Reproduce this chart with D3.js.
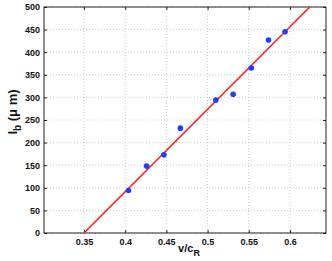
<!DOCTYPE html>
<html><head><meta charset="utf-8">
<script src="https://cdn.jsdelivr.net/npm/d3@7"></script>
<style>body{margin:0;background:#fff}svg{display:block}text{font-family:"Liberation Sans",Arial,sans-serif}</style>
</head><body><svg id="c" width="332" height="261"></svg>
<script>
const vRatio = [0.404, 0.426, 0.447, 0.467, 0.510, 0.531, 0.553, 0.574, 0.594];
const lb = [94, 148, 173, 232, 294, 307, 365, 427, 445];
const fitX = [0.35, 0.624];
const fitY = [0, 500];
const xTicks = [0.35, 0.4, 0.45, 0.5, 0.55, 0.6];
const yTicks = [0, 50, 100, 150, 200, 250, 300, 350, 400, 450, 500];

const svg = d3.select("#c");
const m = {l:44, r:326, t:7, b:233};
const x = d3.scaleLinear().domain([0.3015, 0.6437]).range([m.l, m.r]);
const y = d3.scaleLinear().domain([0, 500]).range([m.b, m.t]);

// grid
const g = svg.append("g");
g.selectAll(".gx").data(xTicks).join("line")
 .attr("x1", d=>x(d)).attr("x2", d=>x(d)).attr("y1", m.t).attr("y2", m.b)
 .attr("stroke", "#bbb").attr("stroke-width", 0.8).attr("stroke-dasharray", "1,2");
g.selectAll(".gy").data(yTicks).join("line")
 .attr("y1", d=>y(d)).attr("y2", d=>y(d)).attr("x1", m.l).attr("x2", m.r)
 .attr("stroke", "#bbb").attr("stroke-width", 0.8).attr("stroke-dasharray", "1,2");

// axes
const fmt = d => String(d);
const ax = svg.append("g").attr("transform", `translate(0,${m.b})`)
 .call(d3.axisBottom(x).tickValues(xTicks).tickFormat(fmt).tickSizeInner(-3).tickSizeOuter(0).tickPadding(6));
const axT = svg.append("g").attr("transform", `translate(0,${m.t})`)
 .call(d3.axisTop(x).tickValues(xTicks).tickFormat("").tickSizeInner(-3).tickSizeOuter(0));
const ay = svg.append("g").attr("transform", `translate(${m.l},0)`)
 .call(d3.axisLeft(y).tickValues(yTicks).tickFormat(fmt).tickSizeInner(-3).tickSizeOuter(0).tickPadding(4));
const ayR = svg.append("g").attr("transform", `translate(${m.r},0)`)
 .call(d3.axisRight(y).tickValues(yTicks).tickFormat("").tickSizeInner(-3).tickSizeOuter(0));
[ax, axT, ay, ayR].forEach(a => {
  a.select(".domain").remove();
  a.selectAll(".tick line").attr("stroke", "#222");
  a.selectAll("text").attr("font-size", 9).attr("font-weight", "bold").attr("fill", "#111");
});
svg.append("rect").attr("x", m.l).attr("y", m.t).attr("width", m.r-m.l).attr("height", m.b-m.t)
 .attr("fill", "none").attr("stroke", "#222").attr("stroke-width", 1);

// fit line
const clip = svg.append("clipPath").attr("id","cp").append("rect")
 .attr("x", m.l).attr("y", m.t).attr("width", m.r-m.l).attr("height", m.b-m.t);
svg.append("path").attr("clip-path","url(#cp)")
 .attr("d", d3.line().x(d=>x(d[0])).y(d=>y(d[1]))(fitX.map((v,i)=>[v, fitY[i]])))
 .attr("stroke", "#ff1a1a").attr("stroke-width", 1.5).attr("fill", "none");

// points
svg.selectAll(".pt").data(vRatio).join("circle")
 .attr("cx", d=>x(d)).attr("cy", (d,i)=>y(lb[i])).attr("r", 2.8).attr("fill", "#1f3dff");

// labels
const xl = svg.append("text").attr("x", (m.l+m.r)/2 + 4).attr("y", 252).attr("text-anchor","middle")
 .attr("font-size", 11).attr("font-weight","bold").attr("fill","#111");
xl.append("tspan").text("v/c");
xl.append("tspan").attr("font-size", 9).attr("dy", 4).text("R");

const yl = svg.append("text").attr("transform", `translate(17,${(m.t+m.b)/2 - 8}) rotate(-90)`)
 .attr("text-anchor","middle").attr("font-size", 13).attr("font-weight","bold").attr("fill","#111");
yl.append("tspan").text("l");
yl.append("tspan").attr("font-size", 10).attr("dy", 4).text("b");
yl.append("tspan").attr("dy", -4).text(" (μ m)");
</script></body></html>
